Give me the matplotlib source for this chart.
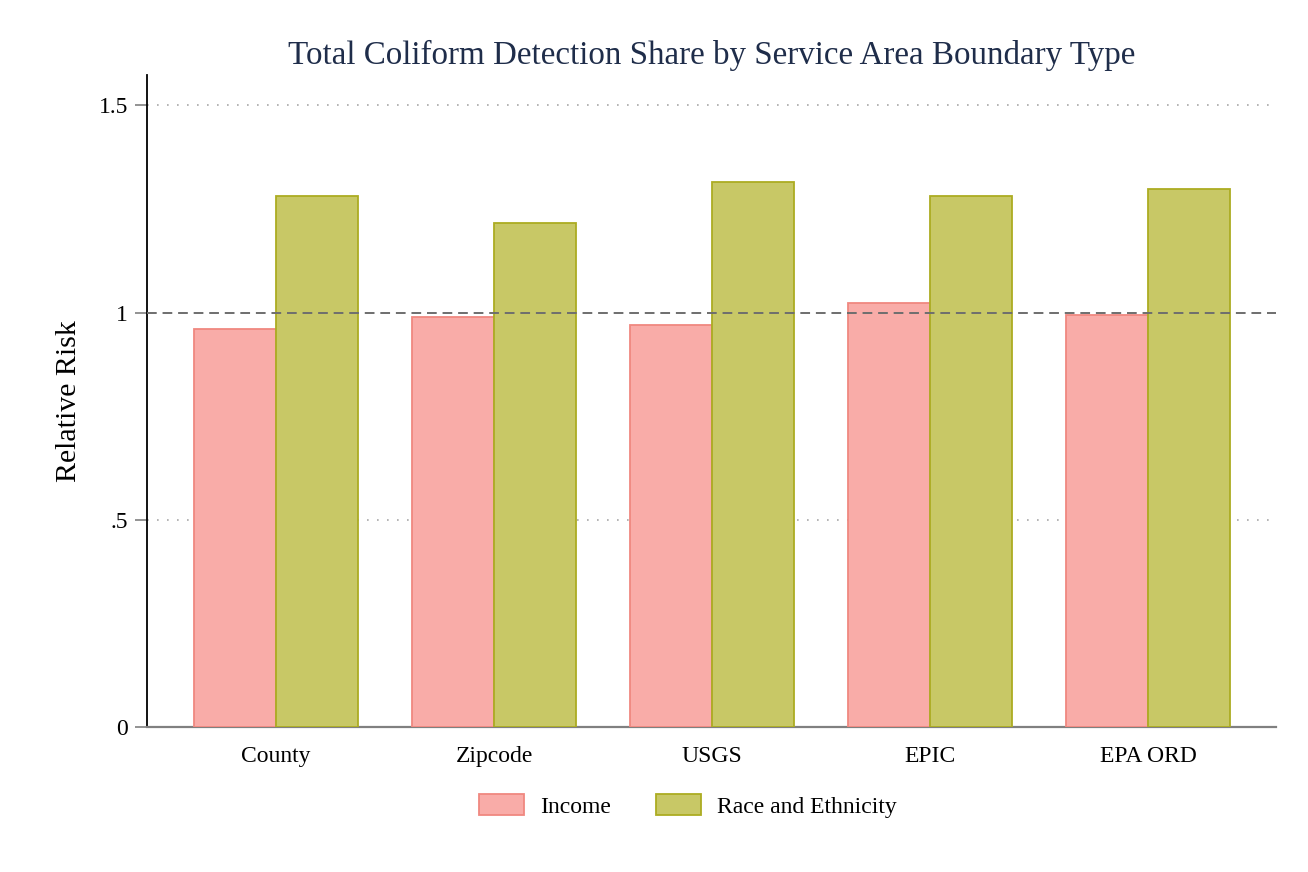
import numpy as np
import matplotlib
matplotlib.use("Agg")
import matplotlib.pyplot as plt
from matplotlib.patches import Patch

# Relative risk values
areas = ["County", "Zipcode", "USGS", "EPIC", "EPA ORD"]
income = [0.960, 0.988, 0.969, 1.024, 0.995]
race = [1.281, 1.217, 1.314, 1.280, 1.299]
yticks = [0, 0.5, 1, 1.5]
ytick_labels = ["0", ".5", "1", "1.5"]

plt.rcParams['font.family'] = ['Liberation Serif', 'DejaVu Serif']

inc_fill, inc_edge = '#f9aca8', '#f08880'
race_fill, race_edge = '#c8c866', '#acac22'

fig = plt.figure(figsize=(13.08, 8.72), dpi=100)
ax = fig.add_axes([147 / 1308, 1 - 727 / 872, (1276 - 147) / 1308, (727 - 75) / 872])

x = np.arange(len(areas))
w = 0.375
ax.bar(x - w / 2, income, width=w, color=inc_fill, edgecolor=inc_edge, linewidth=1.3, zorder=3)
ax.bar(x + w / 2, race, width=w, color=race_fill, edgecolor=race_edge, linewidth=1.3, zorder=3)

ax.set_xlim(-0.592, 4.587)
ax.set_ylim(0, 1.573)

# dotted grid lines and the reference line at 1
for g in [0.5, 1.5]:
    ax.axhline(g, color='#a8a8a8', linestyle=(0, (1, 5)), linewidth=1.2, zorder=1)
ax.axhline(1, color='#6e6e6e', linestyle=(0, (5, 3)), linewidth=1.4, zorder=4)

ax.set_yticks(yticks)
ax.set_yticklabels(ytick_labels)
ax.set_xticks(x)
ax.set_xticklabels(areas)
ax.tick_params(axis='y', length=8.6, color='#808080', width=1.2, labelsize=17, pad=5)
ax.tick_params(axis='x', length=0, labelsize=17, pad=14)

for s in ['top', 'right']:
    ax.spines[s].set_visible(False)
ax.spines['left'].set_color('black')
ax.spines['left'].set_linewidth(1.3)
ax.spines['bottom'].set_color('#808080')
ax.spines['bottom'].set_linewidth(1.6)

ax.set_ylabel("Relative Risk", fontsize=21.5, labelpad=12)
ax.set_title("Total Coliform Detection Share by Service Area Boundary Type",
             fontsize=23.8, color='#1f2d4a', pad=8)

handles = [Patch(facecolor=inc_fill, edgecolor=inc_edge, linewidth=1.3),
           Patch(facecolor=race_fill, edgecolor=race_edge, linewidth=1.3)]
fig.legend(handles, ["Income", "Race and Ethnicity"], loc='center',
           bbox_to_anchor=(688 / 1308, 1 - 806 / 872), ncol=2, frameon=False,
           fontsize=17, handlelength=1.9, handleheight=1.0, columnspacing=1.9,
           handletextpad=0.7)

fig.savefig("out.png", dpi=100, facecolor='white')
